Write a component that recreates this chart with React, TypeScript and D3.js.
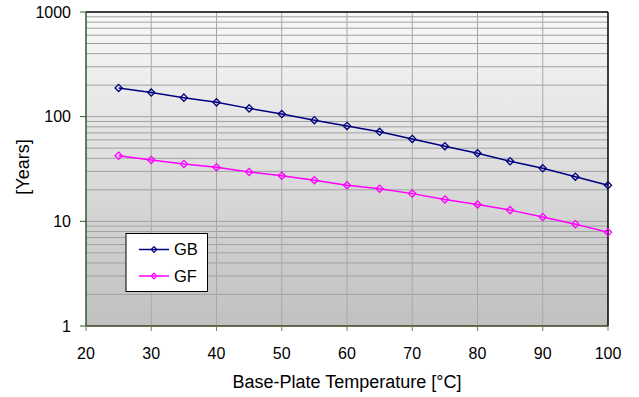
import React from "react";
import * as d3 from "d3";

const temperatures = [25, 30, 35, 40, 45, 50, 55, 60, 65, 70, 75, 80, 85, 90, 95, 100];
const gbYears = [188, 170, 152, 137, 120, 106, 92.5, 81.6, 71.6, 61.3, 52.2, 44.8, 37.5, 32.1, 26.7, 22.1];
const gfYears = [42.4, 38.6, 35.3, 32.9, 29.6, 27.3, 24.7, 22.1, 20.5, 18.4, 16.2, 14.5, 12.8, 11.0, 9.4, 7.85];
const xTicks = [20, 30, 40, 50, 60, 70, 80, 90, 100];
const yTicks = [1, 10, 100, 1000];
const seriesNames = ["GB", "GF"];
const seriesColors = ["#000080", "#ff00ff"];

const W = 639;
const H = 397;
const M = { left: 86, right: 608, top: 12, bottom: 326 };
const FONT = "'Liberation Sans', Arial, sans-serif";

export default function App() {
  const x = d3.scaleLinear().domain([20, 100]).range([M.left, M.right]);
  const y = d3.scaleLog().domain([1, 1000]).range([M.bottom, M.top]);

  const minor: number[] = [];
  for (let dec = 1; dec < 1000; dec *= 10) {
    for (let k = 2; k <= 9; k++) minor.push(dec * k);
  }

  const series = [gbYears, gfYears];
  const line = d3
    .line<number>()
    .x((_, i) => x(temperatures[i]))
    .y((v) => y(v));

  const diamond = (cx: number, cy: number, r = 3.6) =>
    `M${cx},${cy - r}L${cx + r},${cy}L${cx},${cy + r}L${cx - r},${cy}Z`;

  return (
    <svg width={W} height={H} style={{ position: "absolute", left: 0, top: 0 }}>
      <defs>
        <linearGradient id="plotBg" x1="0" y1="0" x2="0" y2="1">
          <stop offset="0" stopColor="#f9f9f9" />
          <stop offset="1" stopColor="#c0c0c0" />
        </linearGradient>
      </defs>
      <rect x={0} y={0} width={W} height={H} fill="#ffffff" />
      <rect
        x={M.left}
        y={M.top}
        width={M.right - M.left}
        height={M.bottom - M.top}
        fill="url(#plotBg)"
      />
      {/* minor log gridlines */}
      {minor.map((v) => (
        <line
          key={"m" + v}
          x1={M.left}
          x2={M.right}
          y1={y(v)}
          y2={y(v)}
          stroke="#a0a0a0"
          strokeWidth={1}
        />
      ))}
      {yTicks.slice(1, -1).map((v) => (
        <line key={"M" + v} x1={M.left} x2={M.right} y1={y(v)} y2={y(v)} stroke="#a0a0a0" strokeWidth={1} />
      ))}
      {xTicks.slice(1, -1).map((v) => (
        <line key={"vx" + v} x1={x(v)} x2={x(v)} y1={M.top} y2={M.bottom} stroke="#a8a8a8" strokeWidth={1} />
      ))}
      {/* frame */}
      <line x1={M.left} x2={M.right} y1={M.top} y2={M.top} stroke="#000" strokeWidth={1.5} />
      <line x1={M.right} x2={M.right} y1={M.top} y2={M.bottom} stroke="#000" strokeWidth={1.5} />
      <line x1={M.left} x2={M.left} y1={M.top} y2={M.bottom} stroke="#2d5a2d" strokeWidth={1.5} />
      <line x1={M.left} x2={M.right} y1={M.bottom} y2={M.bottom} stroke="#404020" strokeWidth={1.5} />
      {/* ticks */}
      {yTicks.map((v) => (
        <g key={"yt" + v}>
          <line x1={M.left - 6} x2={M.left} y1={y(v)} y2={y(v)} stroke="#2d5a2d" strokeWidth={1} />
          <text
            x={71}
            y={y(v)}
            dy="0.35em"
            textAnchor="end"
            fontFamily={FONT}
            fontSize={16}
            fill="#000"
          >
            {v}
          </text>
        </g>
      ))}
      {xTicks.map((v) => (
        <g key={"xt" + v}>
          <line x1={x(v)} x2={x(v)} y1={M.bottom} y2={M.bottom + 5} stroke="#808040" strokeWidth={1} />
          <text
            x={x(v)}
            y={353.5}
            dy="0.35em"
            textAnchor="middle"
            fontFamily={FONT}
            fontSize={16}
            fill="#000"
          >
            {v}
          </text>
        </g>
      ))}
      <text
        x={(M.left + M.right) / 2}
        y={382}
        dy="0.35em"
        textAnchor="middle"
        fontFamily={FONT}
        fontSize={18}
        fill="#000"
      >
        Base-Plate Temperature [°C]
      </text>
      <text
        transform={`translate(23,${(M.top + M.bottom) / 2 - 2}) rotate(-90)`}
        dy="0.35em"
        textAnchor="middle"
        fontFamily={FONT}
        fontSize={18}
        fill="#000"
      >
        [Years]
      </text>
      {/* series */}
      {series.map((vals, si) => (
        <g key={"s" + si}>
          <path d={line(vals) || ""} fill="none" stroke={seriesColors[si]} strokeWidth={1.5} />
          {vals.map((v, i) => (
            <path
              key={i}
              d={diamond(x(temperatures[i]), y(v))}
              fill="none"
              stroke={seriesColors[si]}
              strokeWidth={1.3}
            />
          ))}
        </g>
      ))}
      {/* legend */}
      <rect x={126} y={233.5} width={81.5} height={58} fill="#ffffff" stroke="#000" strokeWidth={1} />
      {seriesNames.map((name, i) => {
        const ly = 249.5 + i * 26.5;
        return (
          <g key={"lg" + name}>
            <line x1={139} x2={169} y1={ly} y2={ly} stroke={seriesColors[i]} strokeWidth={1.5} />
            <path d={diamond(154, ly, 2.8)} fill="none" stroke={seriesColors[i]} strokeWidth={1.2} />
            <text x={174} y={ly} dy="0.35em" fontFamily={FONT} fontSize={16.5} fill="#000">
              {name}
            </text>
          </g>
        );
      })}
    </svg>
  );
}
